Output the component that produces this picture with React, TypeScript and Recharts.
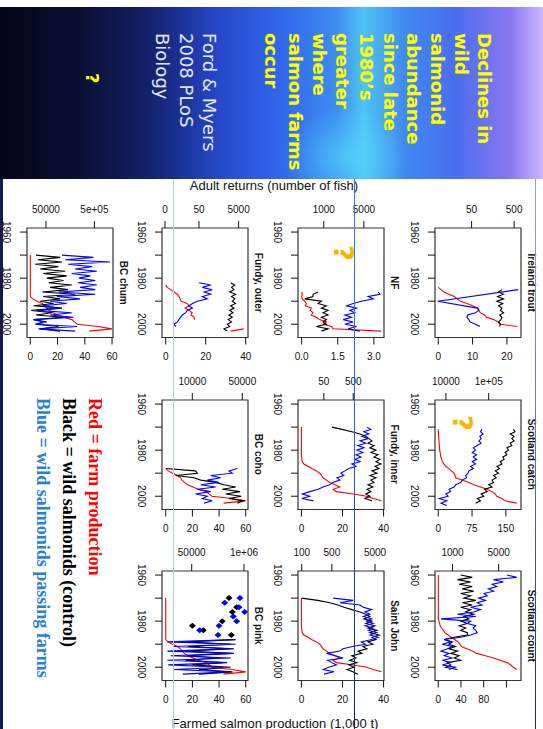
import React from 'react';
import { ComposedChart, Line, XAxis, YAxis, ReferenceArea } from 'recharts';

const SANS = '"Liberation Sans", Arial, Helvetica, sans-serif';
const YEAR_DOMAIN: [number, number] = [1958.24, 2005.76];
const YEAR_TICKS = [1960, 1970, 1980, 1990, 2000];
const YEAR_LABELS = ['1960', '', '1980', '', '2000'];

type Series = { start: number; values: (number | null)[] };

// ---- Ireland trout ----
const irelandTroutBlack: Series = { start: 1985, values: [259, 215, 282, 205, 282, 196, 270, 215, 259, 237, 282, 228, 259, 245, 215, 237, 228] };
const irelandTroutBlue: Series = { start: 1985, values: [620, null, null, null, null, 8, null, null, 68, 74, 62, 40, 39, 43, 46, 62, 78] };
const irelandFarm: Series = { start: 1984, values: [0, 0.8, 1.7, 3, 4.7, 5.5, 6.5, 8.4, 10, 11.6, 11.9, 12.2, 13.5, 14, 16.2, 17.4, 18, 23] };

// ---- Scotland catch ----
const scotCatchBlack: Series = { start: 1971, values: [378000, 414000, 317000, 392000, 347000, 392000, 317000, 347000, 266000, 290000, 243000, 266000, 215000, 230000, 186000, 204000, 156000, 180000, 143000, 170000, 130000, 150000, 120000, 130000, 100000, 120000, 79500, 92000, 66700, 77000, 54000, 64300, 49300] };
const scotCatchBlue: Series = { start: 1971, values: [70000, 64300, 74000, 62000, 66700, 58900, 66700, 54000, 43600, 49300, 41300, 52000, 43600, 52000, 41300, 49300, 37800, 43600, 34600, 32800, 29000, 30500, 24300, 22200, 17000, 15600, 11900, 12900, 10000, 11300, 7000, 10500, 7700, 10500] };
const scotFarm: Series = { start: 1971, values: [0, 0.3, 0.6, 0.9, 1.2, 1.6, 2, 2.4, 2.8, 3.2, 4.2, 5, 5.8, 7.5, 9.4, 12.5, 16.7, 24, 29, 35, 37.3, 38.7, 53, 68, 79, 94, 108, 119, 126, 130, 141, 148, 174] };

// ---- Scotland count ----
const scotCountBlack: Series = { start: 1960, values: [1330, 1990, 1190, 1880, 1260, 1990, 1410, 2100, 1330, 1880, 1490, 2250, 1410, 1990, 1330, 1880, 1580, 2100, 1490, 1770, 1330, 1680, 1260, 1580, 1330, 1680, 1680, 1060, 750, 1000, 880, 1120, 880, 1190, 940, 1260, 1060, 1330, 840, 940, 790, 1190] };
const scotCountBlue: Series = { start: 1960, values: [6670, 9400, 4200, 5900, 4000, 4700, 3500, 4200, 3000, 3350, 2500, 3150, 2370, 2800, 1880, 2650, 2100, 1190, 2250, 670, 1880, 1680, 2250, 2050, 2250, 2370, 1880, 1330, 750, 940, 700, 1000, 840, 670, 880, 750, 1000, 700, 940, 700, 1100, 880] };
const scotCountFarm: Series = { start: 1960, values: [0, 0, 0, 0, 0, 0, 0, 0, 0, 0, 0, 0, 0, 0, 0, 0, 0, 0, 0, 0, 1.2, 2.3, 3.5, 5.8, 9.3, 11.6, 17.4, 23, 29, 35, 38, 41, 50, 60, 68, 83, 97, 109, 121, 127.6, 132, 138] };

// ---- Newfoundland ----
const nfBlack: Series = { start: 1986, values: [795, 650, 650, 465, 910, 795, 1110, 910, 1190, 970, 1190, 910, 1110, 970, 1110, 745, 1190, 910] };
const nfBlue: Series = { start: 1986, values: [8900, 9500, 5950, 7300, 4560, 3250, 2500, 3730, 2850, 3480, 2330, 3050, 2180, 3250, 2330, 3730, 2650, 4260] };
const nfFarm: Series = { start: 1986, values: [0, 0.03, 0, 0.03, 0.12, 0.2, 0.15, 0.4, 0.36, 0.47, 0.4, 0.6, 0.75, 1.03, 0.9, 1.24, 1.3, 3.3] };

// ---- Bay of Fundy ----
const fundyInnerBlack: Series = { start: 1970, values: [94, 206, 450, 850, 1340, 1710, 2170, 1590, 2540, 1850, 2960, 1990, 3470, 2540, 4060, 2960, 4400, 2750, 3750, 2170, 3200, 1850, 2960, 1990, 2540, 1590, 2350, 1470, 1990, 1340, 1850, 1240, 2170] };
const fundyInnerBlue: Series = { start: 1970, values: [1470, 1990, 1150, 1710, 990, 1590, 850, 1340, 720, 1150, 670, 1070, 620, 920, 575, 850, 450, 620, 355, 260, 190, 240, 140, 176, 102, 80, 47, 32, 16.6, 9.3, 16.6, 8.9, 22] };
const fundyFarm: Series = { start: 1970, values: [0, 0, 0, 0, 0, 0, 0, 0, 0, 0, 0, 0, 0, 0.1, 0.2, 0.4, 1.2, 3.2, 4.9, 7.3, 8.9, 9.8, 10.5, 12.2, 13.8, 16.3, 18.7, 15.4, 17, 25.2, 31.7, 34.9, 39] };
const saintJohnBlack: Series = { start: 1970, values: [100, 235, 448, 687, 950, 1450, 2230, 3070, 3810, 2770, 4220, 3070, 4970, 3420, 5520, 3810, 6190, 4220, 5250, 3420, 4460, 2620, 3240, 2000, 2490, 1450, 1800, 1300, 1900, 1240, 1620, 1110, 1530, 2000] };
const saintJohnBlue: Series = { start: 1970, values: [536, 1560, 765, 2230, 2670, 4170, 2920, 3810, 2670, 4170, 3200, 4550, 2920, 4550, 3500, 5460, 3810, 5920, 4170, 2400, 3000, 1500, 900, 765, 375, 600, 912, 400, 500, 640, 420, 313, 560, 330] };
const fundyOuterBlack: Series = { start: 1982, values: [2000, 3200, 2200, 2930, 1800, 3550, 2200, 3200, 2400, 3550, 2000, 2930, 1800, 2600, 1640, 2400, 1500, 2200, 1360, 1800, 920, 1360] };
const fundyOuterBlue: Series = { start: 1982, values: [50, 198, 74, 237, 90, 198, 74, 133, 41, 23, 15, 23, 12, 10, 6.4, 5, 4, 3.2, 1.8, 2.5] };
const fundyOuterFarm: Series = { start: 1983, values: [0, 0.8, 2.5, 4.2, 5.8, 6.7, 7.2, 7.7, 10.7, 11.7, 9.7, 11.7, 13.2, 12.7, 14.2, 14.5, null, null, null, 39, 32.5] };

// ---- British Columbia ----
const bcFarm: Series = { start: 1970, values: [0, 0, 0, 0, 0, 0, 0, 0, 0, 0, 0, 0, 0, 0, 0, 0, 0, 0, 0, 1.8, 5, 8.9, 11, 12.3, 14, 16.6, 20.4, 24.2, 30.6, 32.4, 34.5, 49.8, 60, 43.4] };
const bcCohoBlack: Series = { start: 1988, values: [4250, 11100, 11750, 5860, 10560, 13100, 21200, 27700, 40500, 26300, 46500, 29300, 48400, 32600, 51700, 42600] };
const bcCohoBlue: Series = { start: 1988, values: [42600, 32600, 36200, 18100, 24900, 16200, 23600, 13100, 21200, 11750, 18100, 11100, 16200, 13800, 19000, 14600] };
const bcPinkBlack: Series = { start: 1988, values: [622000, 35500, 466000, 40000, 560000, 33000, 500000, 40000, 239000, 35000, 300000, 50000, 466000, 76000, 520000, 76000] };
const bcPinkBlue: Series = { start: 1988, values: [560000, 12400, 622000, 18000, 466000, 12400, 560000, 15000, 466000, 12400, 380000, 13000, 300000, 18200, 420000, 30000] };
const bcPinkBlackDots: Series = { start: 1970, values: [424000, null, null, null, 658000, null, 512000, null, null, null, 288000, null, 52000, null, 97000, null, 483000] };
const bcPinkBlueDots: Series = { start: 1970, values: [795000, null, 331000, null, 752000, null, 1040000, null, 542000, null, 658000, null, 239000, null, 79000, null, 226000] };
const bcChumBlack: Series = { start: 1970, values: [31000, 98000, 34000, 107000, 30000, 90000, 38000, 125000, 44000, 134000, 52000, 115000, 57000, 170000, 61000, 143000, 42000, 200000, 44000, 98000, 38000, 71600, 27800, 107000, 25000, 67000, 31000, 115000, 27800, 52000, 31000, 90000, 38000, 98000] };
const bcChumBlue: Series = { start: 1970, values: [107000, 477000, 125000, 1050000, 143000, 450000, 200000, 560000, 170000, 410000, 240000, 520000, 230000, 560000, 254000, 520000, 90000, 520000, 84000, 254000, 61000, 134000, 42000, 98000, 32000, 170000, 61000, 185000, 27800, 44000, 30000, 220000, 35000, 200000] };

type AxisSpec = { domain: [number, number]; ticks: number[]; labels: string[]; plusOne?: boolean };
type PanelSpec = {
  title: string; col: number; row: number;
  left: AxisSpec; right: AxisSpec;
  black?: Series; blue?: Series; red: Series; redFrom?: number;
  blackDots?: Series; blueDots?: Series;
};

const PANELS: PanelSpec[] = [
  { title: 'Ireland trout', col: 0, row: 0,
    left: { domain: [6.9, 726], ticks: [50, 500], labels: ['50', '500'] },
    right: { domain: [-0.95, 24.1], ticks: [0, 10, 20], labels: ['0', '10', '20'] },
    black: irelandTroutBlack, blue: irelandTroutBlue, red: irelandFarm },
  { title: 'Scotland catch', col: 1, row: 0,
    left: { domain: [5570, 569000], ticks: [10000, 100000], labels: ['10000', '1e+05'] },
    right: { domain: [-7.2, 183.6], ticks: [0, 75, 150], labels: ['0', '75', '150'] },
    black: scotCatchBlack, blue: scotCatchBlue, red: scotFarm },
  { title: 'Scotland count', col: 2, row: 0,
    left: { domain: [543, 10900], ticks: [1000, 5000], labels: ['1000', '5000'] },
    right: { domain: [-5.7, 145.6], ticks: [0, 40, 80, 120], labels: ['0', '40', '80', ''] },
    black: scotCountBlack, blue: scotCountBlue, red: scotCountFarm },
  { title: 'NF', col: 0, row: 1,
    left: { domain: [356, 11200], ticks: [1000, 5000], labels: ['1000', '5000'] },
    right: { domain: [-0.15, 3.42], ticks: [0, 1.5, 3], labels: ['0.0', '1.5', '3.0'] },
    black: nfBlack, blue: nfBlue, red: nfFarm },
  { title: 'Fundy, inner', col: 1, row: 1,
    left: { domain: [6.6, 5580], ticks: [50, 500], labels: ['50', '500'] },
    right: { domain: [-1.66, 40.2], ticks: [0, 20, 40], labels: ['0', '20', '40'] },
    black: fundyInnerBlack, blue: fundyInnerBlue, red: fundyFarm },
  { title: 'Saint John', col: 2, row: 1,
    left: { domain: [82, 8070], ticks: [100, 500, 5000], labels: ['100', '500', '5000'] },
    right: { domain: [-1.66, 40.2], ticks: [0, 20, 40], labels: ['0', '20', '40'] },
    black: saintJohnBlack, blue: saintJohnBlue, red: fundyFarm },
  { title: 'Fundy, outer', col: 0, row: 2,
    left: { domain: [0.707, 14830], ticks: [1, 51, 5001], labels: ['0', '50', '5000'], plusOne: true },
    right: { domain: [-1.85, 41.15], ticks: [0, 20, 40], labels: ['0', '20', '40'] },
    black: fundyOuterBlack, blue: fundyOuterBlue, red: fundyOuterFarm },
  { title: 'BC coho', col: 1, row: 2,
    left: { domain: [3770, 60100], ticks: [10000, 50000], labels: ['10000', '50000'] },
    right: { domain: [-2.8, 61.7], ticks: [0, 20, 40, 60], labels: ['0', '20', '40', '60'] },
    black: bcCohoBlack, blue: bcCohoBlue, red: bcFarm, redFrom: 1988 },
  { title: 'BC pink', col: 2, row: 2,
    left: { domain: [9100, 1260000], ticks: [50000, 1000000], labels: ['50000', '1e+06'] },
    right: { domain: [-2.8, 61.7], ticks: [0, 20, 40, 60], labels: ['0', '20', '40', '60'] },
    black: bcPinkBlack, blue: bcPinkBlue, red: bcFarm, blackDots: bcPinkBlackDots, blueDots: bcPinkBlueDots },
  { title: 'BC chum', col: 0, row: 3,
    left: { domain: [20300, 1210000], ticks: [50000, 500000], labels: ['50000', '5e+05'] },
    right: { domain: [-2.4, 60.7], ticks: [0, 20, 40, 60], labels: ['0', '20', '40', '60'] },
    black: bcChumBlack, blue: bcChumBlue, red: bcFarm },
];

// layout of the (unrotated) slide
const COL_X = [228, 399.5, 571];
const ROW_Y = [22, 158.5, 294.5, 430];
const BOX_W = 109.5;
const BOX_H = 86;
const TOP_PAD = 14;

function valueAt(s: Series | undefined, year: number, from?: number) {
  if (!s) return null;
  if (from && year < from) return null;
  const v = s.values[year - s.start];
  return v == null ? null : v;
}

function buildRows(p: PanelSpec) {
  const add = p.left.plusOne ? 1 : 0;
  const rows = [];
  for (let y = 1960; y <= 2004; y++) {
    const b = valueAt(p.black, y);
    const u = valueAt(p.blue, y);
    rows.push({
      year: y,
      black: b == null ? null : b + add,
      blue: u == null ? null : u + add,
      red: valueAt(p.red, y, p.redFrom),
      blackDot: valueAt(p.blackDots, y),
      blueDot: valueAt(p.blueDots, y),
    });
  }
  return rows;
}

const sideTick = (ticks: number[], labels: string[]) => (props: any) => {
  const { x, y, payload } = props;
  const label = labels[ticks.indexOf(payload.value)];
  if (!label) return <g />;
  return (
    <text x={x} y={y} transform={`rotate(-90 ${x} ${y})`} textAnchor="middle"
      fontSize={10} fontFamily={SANS} fill="#111">{label}</text>
  );
};

const yearTick = (props: any) => {
  const { x, y, payload } = props;
  const label = YEAR_LABELS[YEAR_TICKS.indexOf(payload.value)];
  if (!label) return <g />;
  return (
    <text x={x} y={y} dy="0.71em" textAnchor="middle" fontSize={10} fontFamily={SANS} fill="#111">{label}</text>
  );
};

const diamond = (color: string) => (props: any) => {
  const { cx, cy, index, value } = props;
  if (value == null || cx == null || cy == null) return <g key={index} />;
  return <path key={index} d={`M${cx},${cy - 3.5}L${cx + 3},${cy}L${cx},${cy + 3.5}L${cx - 3},${cy}Z`} fill={color} />;
};

function Panel({ p }: { p: PanelSpec }) {
  const left = COL_X[p.col];
  const top = ROW_Y[p.row];
  const rows = buildRows(p);
  return (
    <>
      <div style={{ position: 'absolute', left, top: top - 16, width: BOX_W, textAlign: 'center',
        font: `bold 10px ${SANS}`, lineHeight: '12px', color: '#111' }}>{p.title}</div>
      <div style={{ position: 'absolute', left: left - 40, top: top - TOP_PAD }}>
        <ComposedChart width={BOX_W + 70} height={BOX_H + TOP_PAD + 30} data={rows}
          margin={{ top: TOP_PAD, right: 0, bottom: 0, left: 0 }}>
          <XAxis dataKey="year" type="number" domain={YEAR_DOMAIN} ticks={YEAR_TICKS} interval={0}
            allowDataOverflow height={30} axisLine={false} tickLine={{ stroke: '#111' }}
            tickSize={7} tickMargin={10} tick={yearTick} />
          <YAxis yAxisId="left" orientation="left" type="number" scale="log" domain={p.left.domain}
            ticks={p.left.ticks} interval={0} allowDataOverflow width={40} axisLine={false}
            tickLine={{ stroke: '#111' }} tickSize={7} tickMargin={7.5}
            tick={sideTick(p.left.ticks, p.left.labels)} />
          <YAxis yAxisId="right" orientation="right" type="number" domain={p.right.domain}
            ticks={p.right.ticks} interval={0} allowDataOverflow width={30} axisLine={false}
            tickLine={{ stroke: '#111' }} tickSize={7} tickMargin={16}
            tick={sideTick(p.right.ticks, p.right.labels)} />
          <ReferenceArea yAxisId="right" x1={YEAR_DOMAIN[0]} x2={YEAR_DOMAIN[1]}
            y1={p.right.domain[0]} y2={p.right.domain[1]} ifOverflow="visible"
            fill="none" stroke="#333" strokeWidth={1.2} />
          <Line yAxisId="right" dataKey="red" type="linear" stroke="#ff0000" strokeWidth={1.1}
            dot={false} connectNulls={false} isAnimationActive={false} />
          <Line yAxisId="left" dataKey="black" type="linear" stroke="#000000" strokeWidth={1.1}
            dot={false} connectNulls isAnimationActive={false} />
          <Line yAxisId="left" dataKey="blue" type="linear" stroke="#0000ff" strokeWidth={1.1}
            dot={false} connectNulls isAnimationActive={false} />
          {p.blackDots && (
            <Line yAxisId="left" dataKey="blackDot" stroke="none" dot={diamond('#000000')}
              activeDot={false} isAnimationActive={false} />
          )}
          {p.blueDots && (
            <Line yAxisId="left" dataKey="blueDot" stroke="none" dot={diamond('#0000ff')}
              activeDot={false} isAnimationActive={false} />
          )}
        </ComposedChart>
      </div>
    </>
  );
}

const TITLE_LINES = ['Declines in', 'wild', 'salmonid', 'abundance', 'since late', '1980\u2019s',
  'greater', 'where', 'salmon farms', 'occur'];
const SOURCE_LINES = ['Ford & Myers', '2008 PLoS', 'Biology'];

function Slide() {
  return (
    <div style={{ position: 'absolute', left: 0, top: 0, width: 729, height: 543,
      transformOrigin: '0 0', transform: 'translate(543px, 0) rotate(90deg)' }}>
      <div style={{ position: 'absolute', left: 33, top: 46.5, font: 'bold 18px "DejaVu Sans", Verdana, sans-serif',
        lineHeight: '23.7px', color: '#ffff00', whiteSpace: 'nowrap' }}>
        {TITLE_LINES.map((t) => <div key={t}>{t}</div>)}
      </div>
      <div style={{ position: 'absolute', left: 33, top: 321.5, font: '18px "DejaVu Sans", Verdana, sans-serif',
        lineHeight: '23.5px', color: '#e2e8fb', whiteSpace: 'nowrap' }}>
        {SOURCE_LINES.map((t) => <div key={t}>{t}</div>)}
      </div>
      <div style={{ position: 'absolute', left: 73, top: 439, font: 'bold 18px "DejaVu Sans", sans-serif',
        lineHeight: '24px', color: '#ffff00' }}>?</div>

      <div style={{ position: 'absolute', left: 185, top: 269, transform: 'translate(-50%, -50%) rotate(-90deg)',
        font: `13px ${SANS}`, whiteSpace: 'nowrap', color: '#111' }}>Adult returns (number of fish)</div>
      <div style={{ position: 'absolute', left: 723, top: 268, transform: 'translate(-50%, -50%) rotate(-90deg)',
        font: `13px ${SANS}`, whiteSpace: 'nowrap', color: '#111' }}>Farmed salmon production (1,000 t)</div>

      {PANELS.map((p) => <Panel key={p.title} p={p} />)}

      <div style={{ position: 'absolute', left: 253, top: 200, transform: 'translate(-50%, -50%)',
        font: 'bold 27px "DejaVu Sans", sans-serif', color: '#f7b500' }}>?</div>
      <div style={{ position: 'absolute', left: 423, top: 80.5, transform: 'translate(-50%, -50%)',
        font: 'bold 27px "DejaVu Sans", sans-serif', color: '#f7b500' }}>?</div>

      <div style={{ position: 'absolute', left: 398, top: 435, font: 'bold 18px "Liberation Serif", "Times New Roman", serif',
        lineHeight: '26px', whiteSpace: 'nowrap' }}>
        <div style={{ color: '#ff0000' }}>Red = farm production</div>
        <div style={{ color: '#000000' }}>Black = wild salmonids (control)</div>
        <div style={{ color: '#2a7fd4' }}>Blue = wild salmonids passing farms</div>
      </div>
    </div>
  );
}

export default function App() {
  return (
    <div style={{ position: 'absolute', left: 0, top: 0, width: 543, height: 729, background: '#ffffff', overflow: 'hidden' }}>
      <div style={{ position: 'absolute', left: 0, top: 7, width: 543, height: 172,
        background: 'linear-gradient(90deg, #05061a 0%, #0b0f33 15%, #13236e 28%, #2547c8 40%, #3268ee 52%, #3d8cf3 62%, #4fc4f5 67%, #3f86f2 75%, #4a6ef0 84%, #8a78f0 94%, #cdb8ff 100%)' }} />
      <div style={{ position: 'absolute', left: 0, top: 7, width: 543, height: 172,
        background: 'radial-gradient(ellipse 60px 50px at 345px 150px, rgba(90,230,250,0.55), rgba(90,230,250,0) 100%)' }} />
      <div style={{ position: 'absolute', left: 0, top: 179, width: 3, height: 550, background: '#141a4e' }} />
      <Slide />
      <div style={{ position: 'absolute', left: 173, top: 179, width: 1, height: 550, background: '#b5cbf2' }} />
      <div style={{ position: 'absolute', left: 353.5, top: 179, width: 1.6, height: 550,
        background: 'linear-gradient(180deg, #2f7bf3 0%, #2a62d8 45%, #0d1f5c 100%)' }} />
      <div style={{ position: 'absolute', left: 534.5, top: 179, width: 1.5, height: 550,
        background: 'linear-gradient(180deg, #a496f2 0%, #6f72e0 40%, #1c2466 100%)' }} />
    </div>
  );
}
